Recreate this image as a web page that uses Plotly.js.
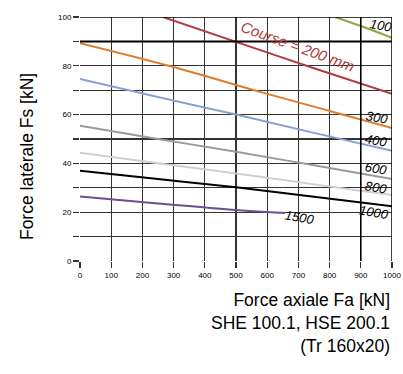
<!DOCTYPE html>
<html><head><meta charset="utf-8">
<script src="https://cdn.plot.ly/plotly-3.0.1.min.js"></script>
<style>body{margin:0;background:#fff}#c{width:403px;height:374px}</style>
</head><body><div id="c"></div>
<script>
// Data (Force axiale Fa [kN] vs Force latérale Fs [kN])
const x100 = [817, 900, 1000];
const y100 = [100, 96.3, 91.5];
const x200 = [266, 500, 750, 1000];
const y200 = [100, 89.8, 79.0, 68.5];
const x300 = [0, 300, 577, 800, 1000];
const y300 = [89.3, 79.5, 69.3, 61.5, 54.5];
const x400 = [0, 250, 500, 750, 1000];
const y400 = [74.6, 67.2, 60.0, 52.5, 45.2];
const x600 = [0, 250, 500, 750, 1000];
const y600 = [55.4, 50.0, 44.8, 39.2, 33.6];
const x800 = [0, 250, 500, 750, 1000];
const y800 = [44.4, 40.1, 35.9, 31.4, 27.0];
const x1000 = [0, 250, 500, 750, 1000];
const y1000 = [37.0, 33.6, 30.2, 26.3, 22.4];
const x1500 = [0, 250, 500, 657];
const y1500 = [26.4, 23.6, 20.9, 19.7];

const xTicks = [0,100,200,300,400,500,600,700,800,900,1000];
const yTicks = [0,10,20,30,40,50,60,70,80,90,100];
const yTickText = ['0','','20','','40','','60','','80','','100'];

const labelText = ['100','Course = 200 mm','300','400','600','800','1000','1500'];
const labelX = [965, 700, 952, 949, 949, 949, 942, 705];
const labelY = [96.7, 88.0, 59, 49.2, 38.1, 30.3, 19.7, 18];

const series = [
  [x100, y100, '#8aa83e'],
  [x200, y200, '#b23a3c'],
  [x300, y300, '#e07c2a'],
  [x400, y400, '#85a3d2'],
  [x600, y600, '#9a9a9a'],
  [x800, y800, '#cfcfcf'],
  [x1000, y1000, '#000000'],
  [x1500, y1500, '#6b4f8f']
];

const traces = series.map(s => ({
  x: s[0], y: s[1], mode: 'lines', type: 'scatter',
  line: {color: s[2], width: 2, shape: 'spline'},
  hoverinfo: 'skip', showlegend: false
}));

const FONT = 'Liberation Sans, Arial, sans-serif';
const annotations = labelText.map((t, i) => ({
  x: labelX[i], y: labelY[i], xref: 'x', yref: 'y', text: t, showarrow: false,
  textangle: i === 1 ? 20 : 10,
  font: {family: FONT, size: i === 1 ? 15 : 13,
         color: i === 1 ? '#b23a3c' : '#000', style: 'italic'}
}));
annotations.push({
  xref: 'paper', yref: 'paper', x: 1, y: -0.112, xanchor: 'right', yanchor: 'top',
  align: 'right', showarrow: false,
  text: 'Force axiale Fa [kN]<br>SHE 100.1, HSE 200.1<br>(Tr 160x20)',
  font: {family: FONT, size: 17.5, color: '#000'}
});
annotations.push({
  xref: 'paper', yref: 'paper', x: -53/312, y: 0.426, xanchor: 'center', yanchor: 'middle',
  textangle: -90, showarrow: false,
  text: 'Force latérale Fs [kN]',
  font: {family: FONT, size: 17.5, color: '#000'}
});

const shapes = [
  {type:'line', xref:'x', yref:'y', x0:900, x1:900, y0:-2.5, y1:100, line:{color:'#000', width:1.6}},
  {type:'line', xref:'x', yref:'y', x0:-20, x1:1000, y0:90, y1:90, line:{color:'#000', width:2}},
  {type:'line', xref:'x', yref:'y', x0:1000, x1:1000, y0:-2.5, y1:100, line:{color:'#000', width:1.5}},
  {type:'line', xref:'x', yref:'y', x0:-20, x1:1000, y0:100, y1:100, line:{color:'#000', width:1.5}}
];

const layout = {
  width: 403, height: 374,
  margin: {l: 80, r: 11, t: 17, b: 113},
  paper_bgcolor: '#fff', plot_bgcolor: '#fff',
  font: {family: FONT, size: 8, color: '#000'},
  xaxis: {
    range: [0, 1000], tickvals: xTicks, ticktext: xTicks.map(String),
    showgrid: true, gridcolor: '#333', gridwidth: 1.2,
    ticks: 'outside', ticklen: 6, tickcolor: '#333', tickwidth: 1.2,
    zeroline: false, showline: false, tickfont: {size: 8}
  },
  yaxis: {
    range: [0, 100], tickvals: yTicks, ticktext: yTickText,
    showgrid: true, gridcolor: '#333', gridwidth: 1.2,
    ticks: 'outside', ticklen: 6, tickcolor: '#333', tickwidth: 1.2,
    zeroline: false, showline: false, tickfont: {size: 8}
  },
  shapes: shapes,
  annotations: annotations,
  showlegend: false
};

Plotly.newPlot('c', traces, layout, {displayModeBar: false, staticPlot: true});
</script></body></html>
